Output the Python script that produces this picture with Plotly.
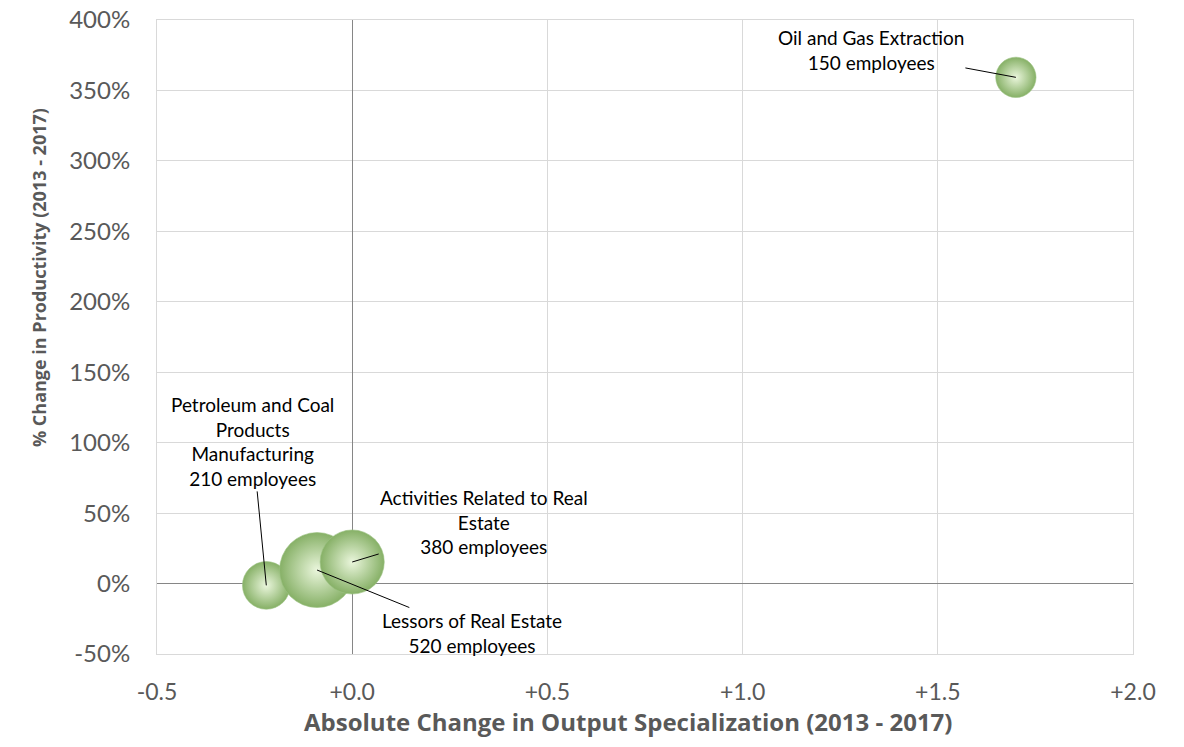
import plotly.graph_objects as go

industries = ["Petroleum and Coal<br>Products<br>Manufacturing", "Lessors of Real Estate",
              "Activities Related to Real<br>Estate", "Oil and Gas Extraction"]
spec_change = [-0.22, -0.09, 0.0, 1.70]
prod_change = [-1.3, 9.6, 15.3, 359.3]
employees = [210, 520, 380, 150]

x_ticks = [-0.5, 0.0, 0.5, 1.0, 1.5, 2.0]
x_tick_labels = ["-0.5", "+0.0", "+0.5", "+1.0", "+1.5", "+2.0"]
y_ticks = [-50, 0, 50, 100, 150, 200, 250, 300, 350, 400]
y_tick_labels = ["-50%", "0%", "50%", "100%", "150%", "200%", "250%", "300%", "350%", "400%"]

x_title = "Absolute Change in Output Specialization (2013 - 2017)"
y_title = "% Change in Productivity (2013 - 2017)"

# label offsets (pixels) from bubble center to label
label_dx = [-14, 155, 132, -145]
label_dy = [-144, 63, -40, -27]

max_px = 75
sizeref = 2.0 * max(employees) / (max_px ** 2)

fig = go.Figure()
fig.add_trace(go.Scatter(
    x=spec_change, y=prod_change, mode="markers",
    marker=dict(size=employees, sizemode="area", sizeref=sizeref,
                color="#86b066",
                gradient=dict(type="radial", color="#eaf6dc"),
                line=dict(width=0.6, color="#9cc283"), opacity=1),
    hoverinfo="skip", showlegend=False,
))

for i in range(len(industries)):
    fig.add_annotation(
        x=spec_change[i], y=prod_change[i], xref="x", yref="y",
        text=f"{industries[i]}<br>{employees[i]} employees",
        showarrow=True, arrowhead=0, arrowwidth=1, arrowcolor="black",
        ax=label_dx[i], ay=label_dy[i], standoff=0,
        font=dict(family="Lato", size=19, color="black"), align="center",
    )

# axis titles
fig.add_annotation(
    x=0.483, y=0, xref="paper", yref="paper", yshift=-67,
    text=x_title, showarrow=False, xanchor="center", yanchor="middle",
    font=dict(family="Open Sans", size=24, color="#595959", weight="bold"),
)
fig.add_annotation(
    x=0, y=0.593, xref="paper", yref="paper", xshift=-118,
    text=y_title, showarrow=False, textangle=-90, xanchor="center", yanchor="middle",
    font=dict(family="Open Sans", size=18, color="#595959", weight="bold"),
)

fig.update_layout(
    width=1184, height=747,
    margin=dict(l=157, r=51, t=20, b=93),
    paper_bgcolor="white", plot_bgcolor="white",
    xaxis=dict(range=[-0.5, 2.0], tickvals=x_ticks, ticktext=x_tick_labels,
               showgrid=True, gridcolor="#d9d9d9", gridwidth=1,
               showline=True, mirror=True, linecolor="#d9d9d9", linewidth=1,
               zeroline=True, zerolinecolor="#868686", zerolinewidth=1,
               tickfont=dict(family="Lato", size=23, color="#595959"),
               ticks="", ticklabelstandoff=17, automargin=False),
    yaxis=dict(range=[-50, 400], tickvals=y_ticks, ticktext=y_tick_labels,
               showgrid=True, gridcolor="#d9d9d9", gridwidth=1,
               showline=True, mirror=True, linecolor="#d9d9d9", linewidth=1,
               zeroline=True, zerolinecolor="#868686", zerolinewidth=1,
               tickfont=dict(family="Lato", size=24, color="#595959"),
               ticks="", ticklabelstandoff=21, automargin=False),
)

fig.write_html("out.html", config={"displayModeBar": False},
               post_script="document.body.style.margin='0';")
